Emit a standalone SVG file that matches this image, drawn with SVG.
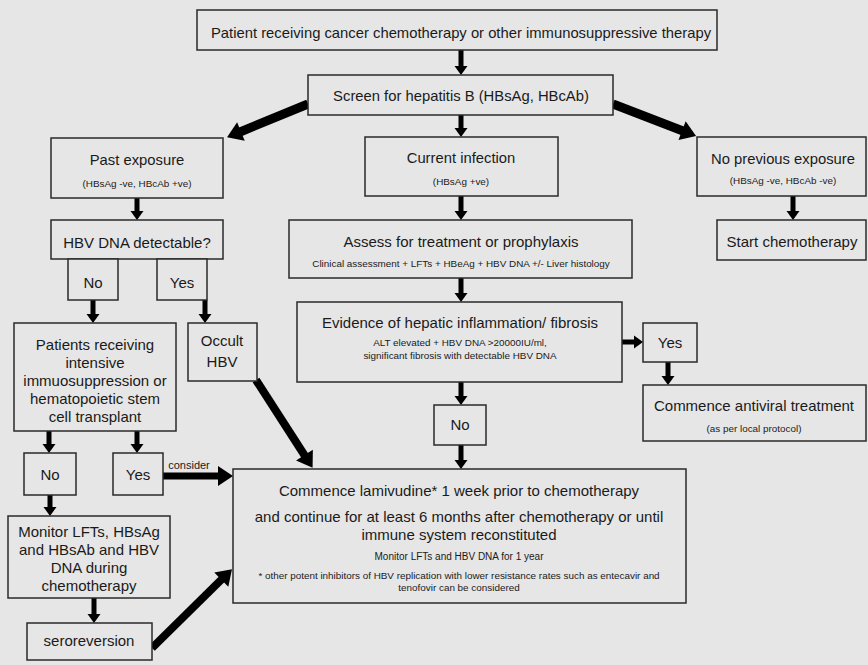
<svg xmlns="http://www.w3.org/2000/svg" width="868" height="665" viewBox="0 0 868 665">
<style>
.bx{fill:#e6e6e6;stroke:#2a2a2a;stroke-width:1.5}
text{font-family:"Liberation Sans",Arial,sans-serif;fill:#1a1a1a;text-anchor:middle}
.t{font-size:15px}
.m{font-size:14.8px}
.s{font-size:9.9px}
.c{stroke:#000;fill:none}
.v{stroke-width:5}
.w{stroke-width:9}
</style>
<defs>
<marker id="ah" markerUnits="userSpaceOnUse" markerWidth="20" markerHeight="20" refX="1" refY="6.5" orient="auto" overflow="visible"><path d="M0,0 L9,6.5 L0,13 z" fill="#000"/></marker>
<marker id="ahB" markerUnits="userSpaceOnUse" markerWidth="30" markerHeight="30" refX="1" refY="10" orient="auto" overflow="visible"><path d="M0,0 L15,10 L0,20 z" fill="#000"/></marker>
</defs>
<rect width="868" height="665" fill="#e6e6e6"/>
<g id="connectors">
<line class="c v" x1="461" y1="50" x2="461" y2="67" marker-end="url(#ah)"/>
<line class="c v" x1="461" y1="115" x2="461" y2="129" marker-end="url(#ah)"/>
<line class="c v" x1="137" y1="198" x2="137" y2="212" marker-end="url(#ah)"/>
<line class="c v" x1="461" y1="196" x2="461" y2="212" marker-end="url(#ah)"/>
<line class="c v" x1="793" y1="196" x2="793" y2="212" marker-end="url(#ah)"/>
<line class="c v" x1="461" y1="278" x2="461" y2="294" marker-end="url(#ah)"/>
<line class="c v" x1="93" y1="300" x2="93" y2="315" marker-end="url(#ah)"/>
<line class="c v" x1="205" y1="300" x2="205" y2="315" marker-end="url(#ah)"/>
<line class="c v" x1="49" y1="431" x2="49" y2="445" marker-end="url(#ah)"/>
<line class="c v" x1="137" y1="431" x2="137" y2="445" marker-end="url(#ah)"/>
<line class="c v" x1="668" y1="362" x2="668" y2="377" marker-end="url(#ah)"/>
<line class="c v" x1="461" y1="382" x2="461" y2="397" marker-end="url(#ah)"/>
<line class="c v" x1="461" y1="445" x2="461" y2="461" marker-end="url(#ah)"/>
<line class="c v" x1="50" y1="495" x2="50" y2="508" marker-end="url(#ah)"/>
<line class="c v" x1="94" y1="598" x2="94" y2="615" marker-end="url(#ah)"/>
<line class="c v" x1="622" y1="342" x2="635" y2="342" marker-end="url(#ah)"/>
<line class="c" stroke-width="7" x1="163" y1="476" x2="219" y2="476" marker-end="url(#ahB)"/>
<line class="c w" x1="308" y1="104" x2="240" y2="132" marker-end="url(#ahB)"/>
<line class="c w" x1="613" y1="104" x2="683" y2="131" marker-end="url(#ahB)"/>
<line class="c" stroke-width="8" x1="256" y1="380" x2="305" y2="456" marker-end="url(#ahB)"/>
<line class="c" stroke-width="8" x1="152" y1="648" x2="222" y2="579" marker-end="url(#ahB)"/>
</g>
<g id="n1"><rect class="bx" x="197" y="10" width="520" height="40"/><text class="m" x="461" y="38">Patient receiving cancer chemotherapy or other immunosuppressive therapy</text></g>
<g id="n2"><rect class="bx" x="308" y="75" width="305" height="40"/><text class="m" x="461" y="101">Screen for hepatitis B (HBsAg, HBcAb)</text></g>
<g id="n3"><rect class="bx" x="51" y="138" width="172" height="60"/><text class="m" x="137" y="165">Past exposure</text><text class="s" x="137" y="187">(HBsAg -ve, HBcAb +ve)</text></g>
<g id="n4"><rect class="bx" x="365" y="137" width="193" height="59"/><text class="m" x="461" y="163">Current infection</text><text class="s" x="461" y="185">(HBsAg +ve)</text></g>
<g id="n5"><rect class="bx" x="697" y="137" width="169" height="59"/><text class="m" x="783" y="164">No previous exposure</text><text class="s" x="783" y="184">(HBsAg -ve, HBcAb -ve)</text></g>
<g id="n6"><rect class="bx" x="51" y="220" width="172" height="39"/><text class="t" x="137" y="248">HBV DNA detectable?</text></g>
<g id="n7"><rect class="bx" x="289" y="220" width="343" height="58"/><text class="t" x="461" y="247">Assess for treatment or prophylaxis</text><text class="s" x="461" y="267">Clinical assessment + LFTs + HBeAg + HBV DNA +/- Liver histology</text></g>
<g id="n8"><rect class="bx" x="717" y="220" width="149" height="40"/><text class="t" x="792" y="247">Start chemotherapy</text></g>
<g id="n9"><rect class="bx" x="68" y="259" width="50" height="41"/><text class="t" x="93" y="288">No</text></g>
<g id="n10"><rect class="bx" x="157" y="259" width="50" height="41"/><text class="t" x="182" y="288">Yes</text></g>
<g id="n11"><rect class="bx" x="297" y="302" width="325" height="80"/><text class="t" x="460" y="328">Evidence of hepatic inflammation/ fibrosis</text><text class="s" x="460" y="346">ALT elevated + HBV DNA &gt;20000IU/ml,</text><text class="s" x="460" y="359">significant fibrosis with detectable HBV DNA</text></g>
<g id="n12"><rect class="bx" x="643" y="323" width="54" height="39"/><text class="t" x="670" y="348">Yes</text></g>
<g id="n13"><rect class="bx" x="14" y="323" width="162" height="108"/><text class="t" x="95" y="350">Patients receiving</text><text class="t" x="95" y="368">intensive</text><text class="t" x="95" y="386">immuosuppression or</text><text class="t" x="95" y="404">hematopoietic stem</text><text class="t" x="95" y="422">cell transplant</text></g>
<g id="n14"><rect class="bx" x="188" y="323" width="69" height="58"/><text class="t" x="222" y="346">Occult</text><text class="t" x="222" y="367">HBV</text></g>
<g id="n15"><rect class="bx" x="643" y="385" width="223" height="56"/><text class="t" x="754" y="411">Commence antiviral treatment</text><text class="s" x="754" y="432">(as per local protocol)</text></g>
<g id="n16"><rect class="bx" x="434" y="405" width="52" height="40"/><text class="t" x="460" y="430">No</text></g>
<g id="n17"><rect class="bx" x="24" y="453" width="52" height="42"/><text class="t" x="50" y="480">No</text></g>
<g id="n18"><rect class="bx" x="113" y="453" width="50" height="42"/><text class="t" x="138" y="480">Yes</text><text x="189" y="469" font-size="11">consider</text></g>
<g id="n19"><rect class="bx" x="233" y="469" width="453" height="134"/><text class="t" x="459" y="496">Commence lamivudine* 1 week prior to chemotherapy</text><text class="t" x="459" y="522">and continue for at least 6 months after chemotherapy or until</text><text class="t" x="459" y="540">immune system reconstituted</text><text x="459" y="560" font-size="10">Monitor LFTs and HBV DNA for 1 year</text><text class="s" x="459" y="579">* other potent inhibitors of HBV replication with lower resistance rates such as entecavir and</text><text class="s" x="459" y="591">tenofovir can be considered</text></g>
<g id="n20"><rect class="bx" x="8" y="516" width="162" height="82"/><text class="t" x="89" y="537">Monitor LFTs, HBsAg</text><text class="t" x="89" y="555">and HBsAb and HBV</text><text class="t" x="89" y="573">DNA during</text><text class="t" x="89" y="591">chemotherapy</text></g>
<g id="n21"><rect class="bx" x="27" y="623" width="125" height="37"/><text class="t" x="89" y="646">seroreversion</text></g>
</svg>
